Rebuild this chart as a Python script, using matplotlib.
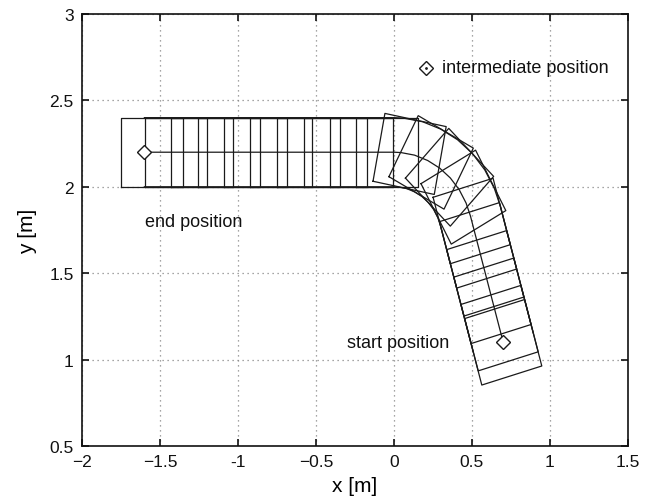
import matplotlib
matplotlib.use("Agg")
import matplotlib.pyplot as plt
import numpy as np

plt.rcParams['font.family'] = ['Liberation Sans', 'DejaVu Sans']

# vehicle footprint poses (centre x, centre y, heading in degrees)
pose_x = [0.700, 0.677, 0.631, 0.585, 0.539, 0.498, 0.445, 0.356, 0.238,
          0.100, -0.046, -0.207, -0.375, -0.547, -0.725, -0.887, -1.059,
          -1.232, -1.396, -1.550]
pose_y = [1.100, 1.182, 1.340, 1.499, 1.661, 1.802, 1.940, 2.055, 2.141,
          2.190, 2.200, 2.200, 2.200, 2.200, 2.200, 2.200, 2.200,
          2.200, 2.200, 2.200]
pose_heading = [106, 106, 106, 106, 106, 106, 119, 136, 152,
                169, 180, 180, 180, 180, 180, 180, 180,
                180, 180, 180]
body_length = 0.4
body_width = 0.4

# reference path
path_x = [0.70, 0.490, 0.462, 0.418, 0.361, 0.293, 0.216, 0.132, 0.044, 0.0, -1.60]
path_y = [1.10, 1.831, 1.906, 1.983, 2.051, 2.108, 2.152, 2.183, 2.198, 2.20, 2.20]
path_heading = [106, 106, 115, 125, 135, 145, 155, 165, 175, 180, 180]

start_pos = (0.7, 1.1)
end_pos = (-1.6, 2.2)
mid_pos = (0.207, 2.69)

xticks = [-2, -1.5, -1, -0.5, 0, 0.5, 1, 1.5]
xticklabels = ['\u22122', '\u22121.5', '-1', '\u22120.5', '0', '0.5', '1', '1.5']
yticks = [0.5, 1, 1.5, 2, 2.5, 3]
yticklabels = ['0.5', '1', '1.5', '2', '2.5', '3']

line_col = '#1a1a1a'

fig = plt.figure(figsize=(6.58, 5.02), dpi=100)
ax = fig.add_axes([0.1246, 0.1096, 0.8298, 0.8606])

# footprints
for cx, cy, th in zip(pose_x, pose_y, pose_heading):
    t = np.radians(th)
    f = np.array([np.cos(t), np.sin(t)]) * body_length / 2
    s = np.array([-np.sin(t), np.cos(t)]) * body_width / 2
    c = np.array([cx, cy])
    corners = np.array([c + f + s, c - f + s, c - f - s, c + f - s, c + f + s])
    ax.plot(corners[:, 0], corners[:, 1], color=line_col, lw=0.9)

# path and side traces
px = np.array(path_x)
py = np.array(path_y)
ph = np.radians(path_heading)
ax.plot(px, py, color=line_col, lw=0.9)
for side in (1, -1):
    ox = px - side * np.sin(ph) * body_width / 2
    oy = py + side * np.cos(ph) * body_width / 2
    ax.plot(ox, oy, color=line_col, lw=0.9)

mk = dict(marker='D', markersize=7.5, markerfacecolor='white',
          markeredgecolor=line_col, markeredgewidth=1.0, linestyle='none')
ax.plot(*start_pos, **mk)
ax.plot(*end_pos, **mk)
ax.plot(*mid_pos, **mk)
ax.plot(*mid_pos, marker='.', markersize=2, color=line_col)

ax.text(mid_pos[0] + 0.1, mid_pos[1], 'intermediate position', fontsize=13,
        va='center', ha='left', color='#111111')
ax.text(-1.595, 1.80, 'end position', fontsize=13, va='center', ha='left',
        color='#111111')
ax.text(-0.30, 1.10, 'start position', fontsize=13, va='center', ha='left',
        color='#111111')

ax.set_xlim(-2, 1.5)
ax.set_ylim(0.5, 3)
ax.set_xticks(xticks)
ax.set_xticklabels(xticklabels)
ax.set_yticks(yticks)
ax.set_yticklabels(yticklabels)
ax.tick_params(direction='in', length=5, width=1.2, top=True, right=True,
               labelsize=12.5, pad=6, colors='#111111')
for sp in ax.spines.values():
    sp.set_linewidth(1.2)
    sp.set_color('#111111')
ax.grid(True, linestyle=(0, (1, 3)), color='#888888', linewidth=0.9)
ax.set_axisbelow(True)

ax.set_xlabel('x [m]', fontsize=15, labelpad=5)
ax.set_ylabel('y [m]', fontsize=15, labelpad=9)

fig.savefig('out.png', dpi=100)
